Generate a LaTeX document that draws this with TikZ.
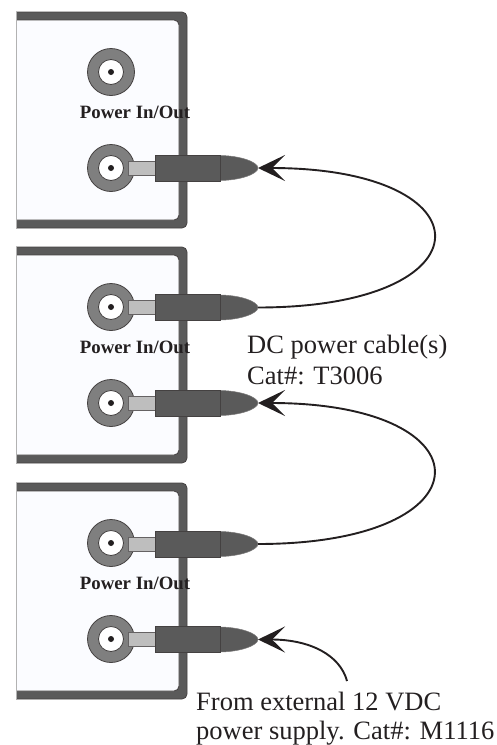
\documentclass[tikz,border=0pt]{standalone}
\usepackage{fontspec}
\setmainfont{Liberation Serif}
\usetikzlibrary{arrows.meta}
\definecolor{shell}{HTML}{5A5A5A}
\definecolor{ring}{HTML}{7F7F7F}
\definecolor{sleeve}{HTML}{BEBEBE}
\definecolor{panel}{HTML}{FBFCFF}
\definecolor{ink}{HTML}{231F20}

\begin{document}
\begin{tikzpicture}[x=1pt, y=-1pt]
    \tikzstyle{jackring} = [circle, draw=ink!85, fill=ring, line width=0.8pt, inner sep=0pt, minimum size=47pt]
    \tikzstyle{jackhole} = [circle, draw=ink!85, fill=white, line width=0.8pt, inner sep=0pt, minimum size=25pt]
    \tikzstyle{jackpin} = [circle, fill=ink, inner sep=0pt, minimum size=6pt]
    \tikzstyle{plugpart} = [fill=shell]
    \tikzstyle{powerlabel} = [font=\bfseries\fontsize{18.8}{20}\selectfont, text=ink, inner sep=0pt]
    \tikzstyle{notelabel} = [font=\fontsize{26.5}{30}\selectfont, text=ink, inner sep=0pt, anchor=base west]
    \tikzstyle{cable} = [ink, line width=1.9pt, -{Stealth[length=27pt, width=26pt, inset=13pt]}]
    \useasboundingbox (0,0) rectangle (496,745);
    % three units, top edges at 12, 247 and 483
    \foreach \n/\t in {1/12, 2/247, 3/483} {
        \fill[shell, draw=ink!85, line width=0.8pt, rounded corners=5pt]
            (16,\t) -- (187,\t) -- (187,\t+216) -- (16,\t+216);
        \fill[panel, draw=ink!85, line width=0.8pt, rounded corners=5pt]
            (16,\t+8) -- (179,\t+8) -- (179,\t+208) -- (16,\t+208);
        \draw[gray!60, line width=0.6pt] (16,\t) -- (16,\t+216);
        \node[jackring] (upper\n) at (111,\t+60) {};
        \node[jackhole] at (upper\n) {};
        \node[jackpin] at (upper\n) {};
        \node[jackring] (lower\n) at (111,\t+156) {};
        \node[jackhole] at (lower\n) {};
        \node[jackpin] at (lower\n) {};
        \node[powerlabel] (power\n) at (135,\t+100) {Power In/Out};
    }
    % plugs, the tip of each one is a named coordinate
    \foreach \j/\y in {lowera/168, uppertwo/307.5, lowertwo/403, upperthree/544, lowerthree/639.5} {
        \draw[draw=ink!70, fill=sleeve, line width=0.6pt] (128,\y-7) rectangle (156,\y+7);
        \draw[plugpart, draw=ink!60, line width=0.5pt] (219,\y-12.5) .. controls (240,\y-12.5) and (258,\y-6) .. (258,\y)
            .. controls (258,\y+6) and (240,\y+12.5) .. (219,\y+12.5) -- cycle;
        \draw[plugpart, draw=ink!85, line width=0.7pt] (155,\y-13) rectangle (220,\y+13);
        \coordinate (\j) at (258,\y);
    }
    \coordinate (supply) at (347,681);
    \draw[cable] (uppertwo) to[out=0, in=0, looseness=4.3] (lowera);
    \draw[cable] (upperthree) to[out=0, in=0, looseness=4.25] (lowertwo);
    \draw[cable] (supply) .. controls (340,655) and (310,639.5) .. (lowerthree);
    \node[notelabel] (cablenote) at (247,353) {DC power cable(s)};
    \node[notelabel] (catnote) at (247,384) {Cat\#: T3006};
    \node[notelabel] (supplynote) at (196,710) {From external 12 VDC};
    \node[notelabel] (supplycat) at (196,739) {power supply. Cat\#: M1116};
\end{tikzpicture}
\end{document}
